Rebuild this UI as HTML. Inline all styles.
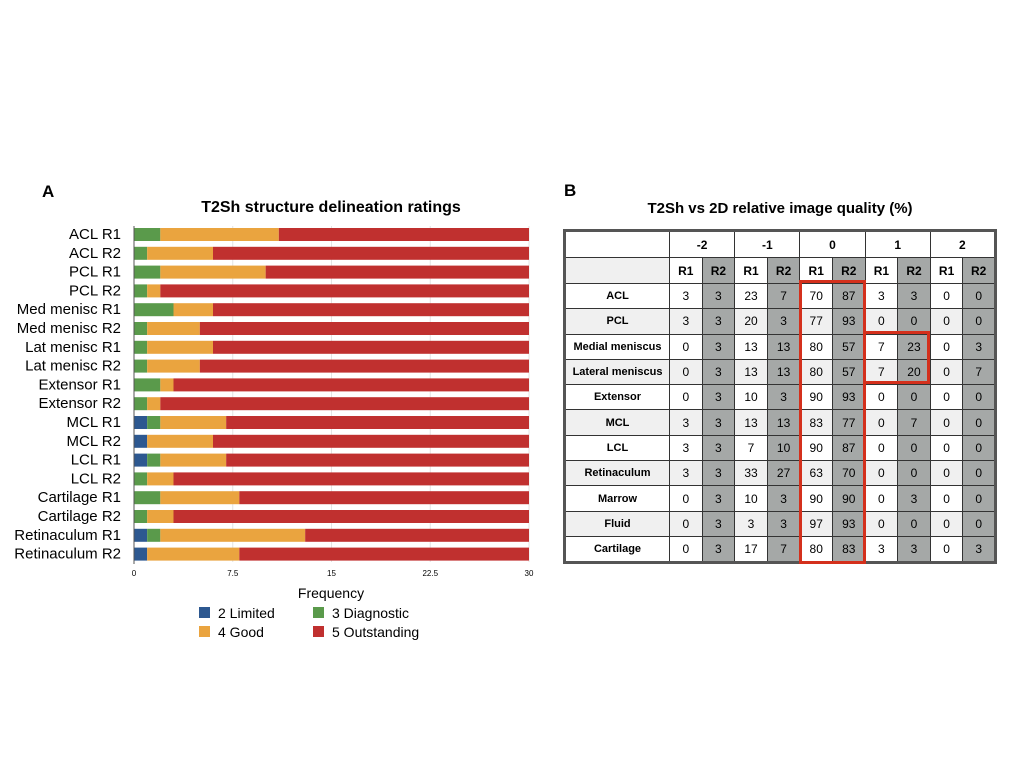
<!DOCTYPE html>
<html><head><meta charset="utf-8"><style>
body{margin:0;background:#fff;font-family:"Liberation Sans",Arial,sans-serif;}
#wrap{position:relative;width:1024px;height:768px;overflow:hidden;}
table{position:absolute;left:563px;top:229px;border-collapse:collapse;border:3px solid #555;font-size:12px;table-layout:fixed;width:431px;}
td{border:1px solid #333;text-align:center;padding:0;height:24.3px;overflow:hidden;white-space:nowrap;}
td.lab{font-weight:bold;font-size:11px;}
tr.h td{font-weight:bold;height:25px;}
.g{background:#a5a8a7;}
.l{background:#f0f0f0;}
</style></head><body><div id="wrap">
<svg id="chart" width="560" height="768" style="position:absolute;left:0;top:0"></svg>
<div style="position:absolute;left:564px;top:181px;font-weight:bold;font-size:17px">B</div>
<div style="position:absolute;left:563px;top:200px;width:434px;text-align:center;font-weight:bold;font-size:15px">T2Sh vs 2D relative image quality (%)</div>
<table id="tbl"><colgroup><col style="width:105px"><col span="10" style="width:32.6px"></colgroup></table>
<div style="position:absolute;left:799px;top:280px;width:61px;height:278px;border:3px solid #d4301c"></div>
<div style="position:absolute;left:863px;top:331px;width:61px;height:47px;border:3px solid #d4301c"></div>
</div>
<script>
const cats=["ACL R1","ACL R2","PCL R1","PCL R2","Med menisc R1","Med menisc R2","Lat menisc R1","Lat menisc R2","Extensor R1","Extensor R2","MCL R1","MCL R2","LCL R1","LCL R2","Cartilage R1","Cartilage R2","Retinaculum R1","Retinaculum R2"];
const limited=[0,0,0,0,0,0,0,0,0,0,1,1,1,0,0,0,1,1];
const diagnostic=[2,1,2,1,3,1,1,1,2,1,1,0,1,1,2,1,1,0];
const good=[9,5,8,1,3,4,5,4,1,1,5,5,5,2,6,2,11,7];
const outstanding=[19,24,20,28,24,25,24,25,27,28,23,24,23,27,22,27,17,22];
const ticks=[0,7.5,15,22.5,30];
const tickLabels=["0","7.5","15","22.5","30"];
const series=[limited,diagnostic,good,outstanding];
const colors=["#2d5890","#5a9a4b","#eaa43f","#c0302f"];
const names=["2 Limited","3 Diagnostic","4 Good","5 Outstanding"];
const svg=document.getElementById('chart');const NS="http://www.w3.org/2000/svg";
const x0=134,x1=529,y0=228,pitch=18.8,bh=13;
const xs=v=>x0+v/30*(x1-x0);
function mk(t,a,txt){const e=document.createElementNS(NS,t);for(const k in a)e.setAttribute(k,a[k]);if(txt!==undefined)e.textContent=txt;svg.appendChild(e);return e;}
let e=mk('text',{x:42,y:197,'font-size':17,'font-weight':'bold'},'A');

e=mk('text',{x:331,y:212,'font-size':16,'font-weight':'bold','text-anchor':'middle'},'T2Sh structure delineation ratings');

ticks.forEach((t,i)=>{const g=mk('line',{x1:xs(t),x2:xs(t),y1:226,y2:562,stroke:'#e4e4e4'});

const l=mk('text',{x:xs(t),y:576,'font-size':8,'text-anchor':'middle'},tickLabels[i]);
});
cats.forEach((c,i)=>{const y=y0+i*pitch;let acc=0;
series.forEach((s,k)=>{if(s[i]>0){const r=mk('rect',{x:xs(acc),y:y,width:xs(acc+s[i])-xs(acc),height:bh,fill:colors[k]});
}acc+=s[i];});
const t=mk('text',{x:121,y:y+11,'font-size':15,'text-anchor':'end'},c);
});
e=mk('line',{x1:x0,x2:x0,y1:226,y2:564,stroke:'#555'});
e=mk('text',{x:331,y:598,'font-size':14,'text-anchor':'middle'},'Frequency');

[[199,607,0],[313,607,1],[199,626,2],[313,626,3]].forEach(([x,y,k])=>{
const r=mk('rect',{x:x,y:y,width:11,height:11,fill:colors[k]});
const t=mk('text',{x:x+19,y:y+11,'font-size':14},names[k]);});
const rows=[["ACL",3,3,23,7,70,87,3,3,0,0],["PCL",3,3,20,3,77,93,0,0,0,0],["Medial meniscus",0,3,13,13,80,57,7,23,0,3],["Lateral meniscus",0,3,13,13,80,57,7,20,0,7],["Extensor",0,3,10,3,90,93,0,0,0,0],["MCL",3,3,13,13,83,77,0,7,0,0],["LCL",3,3,7,10,90,87,0,0,0,0],["Retinaculum",3,3,33,27,63,70,0,0,0,0],["Marrow",0,3,10,3,90,90,0,3,0,0],["Fluid",0,3,3,3,97,93,0,0,0,0],["Cartilage",0,3,17,7,80,83,3,3,0,3]];
let h='<tr class="h"><td class="lab"></td>';
["-2","-1","0","1","2"].forEach(s=>h+='<td colspan="2">'+s+'</td>');
h+='</tr><tr class="h"><td class="lab l"></td>';
for(let i=0;i<5;i++)h+='<td>R1</td><td class="g">R2</td>';
h+='</tr>';
rows.forEach((r,ri)=>{const alt=ri%2?'l':'';h+='<tr><td class="lab '+alt+'">'+r[0]+'</td>';
for(let j=1;j<11;j++)h+='<td class="'+(j%2===0?'g':alt)+'">'+r[j]+'</td>';h+='</tr>';});
document.getElementById('tbl').insertAdjacentHTML('beforeend',h);
</script></body></html>
